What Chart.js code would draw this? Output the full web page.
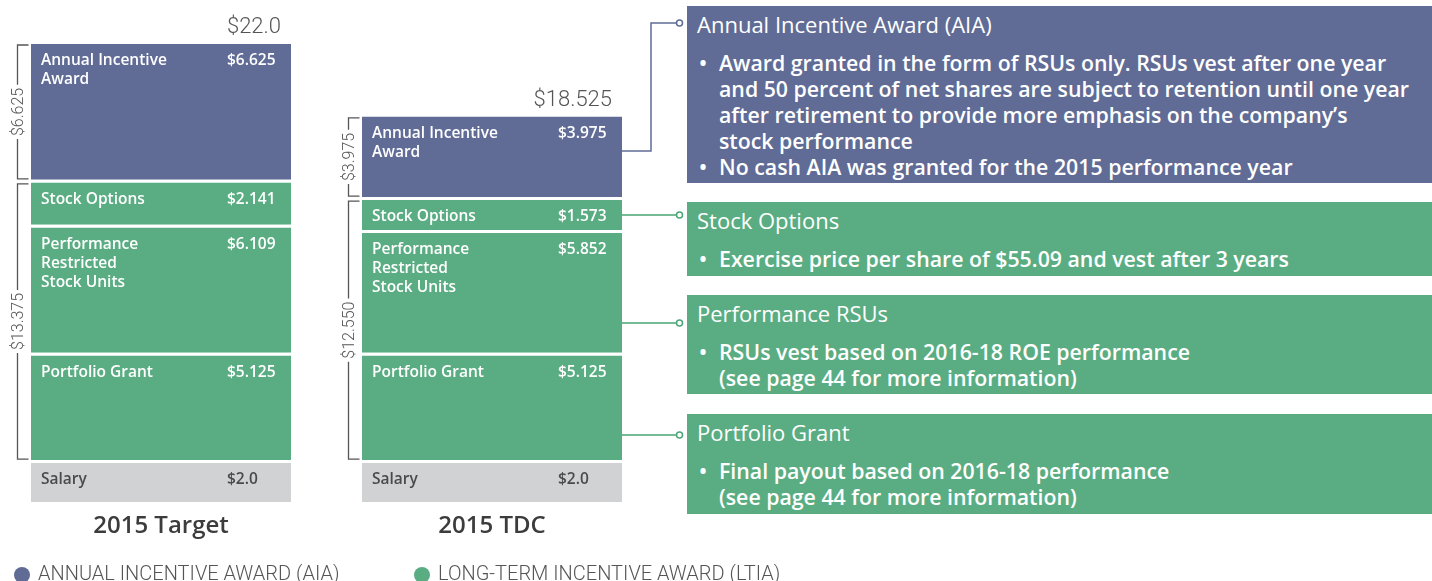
<!DOCTYPE html>
<html><head><meta charset="utf-8">
<script src="https://cdn.jsdelivr.net/npm/chart.js@4/dist/chart.umd.min.js"></script>
<style>
html,body{margin:0;padding:0;background:#fff;}
#wrap{position:relative;width:1432px;height:581px;overflow:hidden;}
#c{position:absolute;left:0;top:0;}
.box{position:absolute;left:687px;width:745px;color:#fff;font-family:"Open Sans",sans-serif;box-sizing:border-box;padding-left:10px;padding-top:5px;}
.box .t{font-size:22px;font-weight:400;line-height:26px;white-space:nowrap;}
.box ul{list-style:none;margin:13px 0 0 0;padding:0;}
.box li{position:relative;font-size:21.3px;font-weight:600;line-height:26px;padding-left:22px;white-space:nowrap;}
.box li:before{content:"\2022";position:absolute;left:2px;top:0;}
.aia{background:#606c96;}
.ltia{background:#5aad82;}
.lg{position:absolute;top:563px;font-family:Roboto,sans-serif;font-weight:300;font-size:20px;line-height:20px;color:#555;white-space:nowrap;}
.lg i{position:absolute;left:-24px;top:4px;width:16px;height:16px;border-radius:50%;}
</style>
</head><body>
<div id="wrap">
<canvas id="c" width="1432" height="581"></canvas>
<div class="box aia" style="top:6px;height:177px;">
  <div class="t">Annual Incentive Award (AIA)</div>
  <ul>
    <li>Award granted in the form of RSUs only. RSUs vest after one year<br>and 50 percent of net shares are subject to retention until one year<br>after retirement to provide more emphasis on the company’s<br>stock performance</li>
    <li>No cash AIA was granted for the 2015 performance year</li>
  </ul>
</div>
<div class="box ltia" style="top:202px;height:74px;">
  <div class="t">Stock Options</div>
  <ul><li>Exercise price per share of $55.09 and vest after 3 years</li></ul>
</div>
<div class="box ltia" style="top:295px;height:99px;">
  <div class="t">Performance RSUs</div>
  <ul><li>RSUs vest based on 2016-18 ROE performance<br>(see page 44 for more information)</li></ul>
</div>
<div class="box ltia" style="top:414px;height:100px;">
  <div class="t">Portfolio Grant</div>
  <ul><li>Final payout based on 2016-18 performance<br>(see page 44 for more information)</li></ul>
</div>
<div class="lg" style="left:38px;"><i style="background:#606c96"></i>ANNUAL INCENTIVE AWARD (AIA)</div>
<div class="lg" style="left:438px;"><i style="background:#5aad82"></i>LONG-TERM INCENTIVE AWARD (LTIA)</div>
</div>
<script>
// ---- data ----
const categories = ['2015 Target', '2015 TDC'];
const salary = [2.0, 2.0];
const portfolioGrant = [5.125, 5.125];
const performanceRSU = [6.109, 5.852];
const stockOptions = [2.141, 1.573];
const annualIncentive = [6.625, 3.975];
const segmentNames = [
  ['Salary'],
  ['Portfolio Grant'],
  ['Performance', 'Restricted', 'Stock Units'],
  ['Stock Options'],
  ['Annual Incentive', 'Award']
];

const BLUE = '#606c96', GREEN = '#5aad82', GREY = '#d1d2d4';
function fmt(v){ return Number.isInteger(v) ? v.toFixed(1) : String(v); }
function mk(label, vals, color){
  return {label, data: vals.map((v,i)=>({x:i, y:v})), backgroundColor: color,
    borderColor:'#ffffff', borderWidth:{top:3,left:0,right:0,bottom:0},
    barThickness:260, inflateAmount:0};
}
const datasets = [
  mk('Salary', salary, GREY),
  mk('Portfolio Grant', portfolioGrant, GREEN),
  mk('Performance Restricted Stock Units', performanceRSU, GREEN),
  mk('Stock Options', stockOptions, GREEN),
  mk('Annual Incentive Award', annualIncentive, BLUE)
];

const annot = {
  id:'annot',
  afterDatasetsDraw(chart){
    const ctx = chart.ctx;
    ctx.save();
    chart.data.datasets.forEach((ds, di)=>{
      const meta = chart.getDatasetMeta(di);
      meta.data.forEach((el, i)=>{
        const left = el.x - el.width/2, right = el.x + el.width/2;
        const top = el.y;
        ctx.fillStyle = di === 0 ? '#4a4a4c' : '#ffffff';
        ctx.font = '600 15.5px "Open Sans"';
        ctx.textBaseline = 'alphabetic';
        ctx.textAlign = 'left';
        segmentNames[di].forEach((ln, k)=> ctx.fillText(ln, left + 10, top + 24 + k*19));
        ctx.fillText('$' + fmt(ds.data[i].y), right - 64, top + 24);
      });
    });
    const mAIA = chart.getDatasetMeta(4), mSO = chart.getDatasetMeta(3), mPG = chart.getDatasetMeta(1);
    categories.forEach((c, i)=>{
      const el = mAIA.data[i];
      const left = el.x - el.width/2, right = el.x + el.width/2;
      const total = salary[i] + portfolioGrant[i] + performanceRSU[i] + stockOptions[i] + annualIncentive[i];
      ctx.fillStyle = '#555';
      ctx.font = '300 22px Roboto';
      ctx.textAlign = 'right';
      ctx.textBaseline = 'alphabetic';
      ctx.fillText('$' + fmt(Math.round(total*1000)/1000), right - 10, el.y + 3 - 11);
      const lt = portfolioGrant[i] + performanceRSU[i] + stockOptions[i];
      const br = [
        [el.y + 4, el.base - 1, annualIncentive[i]],
        [mSO.data[i].y + 4, mPG.data[i].base - 1, lt]
      ];
      const bx = left - 13.5, tx = left - 2.5;
      br.forEach(([t, b, v])=>{
        const txt = '$' + v.toFixed(3);
        ctx.font = '300 16px Roboto';
        const w = ctx.measureText(txt).width;
        const mid = (t + b)/2;
        ctx.strokeStyle = '#555'; ctx.lineWidth = 1.3;
        ctx.beginPath();
        ctx.moveTo(tx, t); ctx.lineTo(bx, t); ctx.lineTo(bx, mid - w/2 - 3);
        ctx.moveTo(bx, mid + w/2 + 3); ctx.lineTo(bx, b); ctx.lineTo(tx, b);
        ctx.stroke();
        ctx.save();
        ctx.translate(bx + 1, mid);
        ctx.rotate(-Math.PI/2);
        ctx.textAlign = 'center'; ctx.textBaseline = 'middle';
        ctx.fillStyle = '#555';
        ctx.fillText(txt, 0, 0);
        ctx.restore();
      });
    });
    const rEl = mAIA.data[1];
    const rx = rEl.x + rEl.width/2;
    const conns = [
      {color: BLUE, y0: 151, y1: 23, elbow: 651},
      {color: '#4aa675', y0: 215, y1: 215},
      {color: '#4aa675', y0: 323, y1: 323},
      {color: '#4aa675', y0: 435, y1: 435}
    ];
    conns.forEach(c=>{
      ctx.strokeStyle = c.color; ctx.lineWidth = 1.5;
      ctx.beginPath();
      ctx.moveTo(rx, c.y0);
      if (c.elbow){ ctx.lineTo(c.elbow, c.y0); ctx.lineTo(c.elbow, c.y1); }
      ctx.lineTo(676, c.y1);
      ctx.stroke();
      ctx.beginPath();
      ctx.arc(679.5, c.y1, 3, 0, Math.PI*2);
      ctx.fillStyle = '#fff'; ctx.fill();
      ctx.stroke();
    });
    ctx.restore();
  }
};

new Chart(document.getElementById('c'), {
  type:'bar',
  data:{datasets},
  options:{
    responsive:false, animation:false, devicePixelRatio:1,
    layout:{padding:{top:41, bottom:39, left:0, right:0}},
    plugins:{legend:{display:false}, tooltip:{enabled:false}},
    scales:{
      x:{type:'linear', stacked:true, offset:false, min:-161/331, max:(1432-161)/331,
        grid:{display:false, drawTicks:false, offset:false}, border:{display:false},
        afterBuildTicks:s=>{ s.ticks = categories.map((c,i)=>({value:i})); },
        afterFit:s=>{ s.height = 40; },
        ticks:{callback:v=>categories[v], font:{family:'Open Sans', size:24, weight:'600'}, color:'#3c3c3c', padding:10, maxRotation:0, autoSkip:false}
      },
      y:{display:false, stacked:true, min:0, max:22}
    }
  },
  plugins:[annot]
});
</script>
</body></html>
